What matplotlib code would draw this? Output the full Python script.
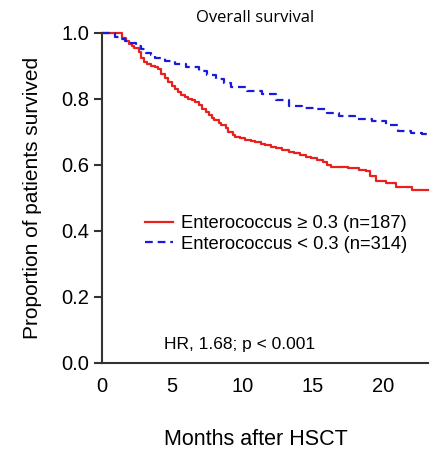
import matplotlib
matplotlib.use('Agg')
import matplotlib.pyplot as plt

plt.rcParams['font.family'] = ['Liberation Sans', 'DejaVu Sans']

# Kaplan-Meier step points (months, proportion)
red_t = [0, 1.4, 1.7, 1.9, 2.1, 2.3, 2.6, 2.8, 3.0, 3.2, 3.5, 3.8, 4.0, 4.2, 4.5, 4.7, 5.0, 5.2, 5.4, 5.6, 5.9,
         6.1, 6.4, 6.6, 6.9, 7.1, 7.4, 7.6, 7.8, 8.0, 8.3, 8.5, 8.8, 9.0, 9.3, 9.5, 9.8,
         10.2, 10.6, 10.9, 11.3, 11.6, 12.0, 12.4, 12.8, 13.3, 13.7, 14.1, 14.5, 14.9, 15.3, 15.7, 16.0, 16.3,
         17.5, 18.3, 18.8, 19.1, 19.5, 20.2, 20.9, 22.1, 23.2]
red_s = [1.0, 0.985, 0.975, 0.967, 0.96, 0.955, 0.942, 0.925, 0.91, 0.905, 0.9, 0.897, 0.89, 0.875, 0.862, 0.85, 0.84, 0.83, 0.82, 0.81, 0.805,
         0.80, 0.795, 0.79, 0.78, 0.77, 0.76, 0.75, 0.743, 0.735, 0.727, 0.72, 0.71, 0.70, 0.69, 0.683, 0.68,
         0.675, 0.671, 0.668, 0.664, 0.66, 0.655, 0.65, 0.645, 0.64, 0.635, 0.63, 0.625, 0.62, 0.613, 0.607, 0.6, 0.592,
         0.59, 0.585, 0.58, 0.565, 0.55, 0.545, 0.532, 0.523, 0.523]
blue_t = [0, 0.9, 1.3, 1.6, 2.0, 2.4, 2.8, 3.1, 3.5, 3.8, 4.5, 5.2, 6.0, 6.9, 7.5, 8.1, 8.7, 9.2, 10.3, 11.4, 12.4, 13.3,
          14.2, 15.2, 16.0, 16.9, 18.0, 19.2, 20.2, 21.1, 22.0, 22.8, 23.2]
blue_s = [1.0, 0.988, 0.982, 0.975, 0.968, 0.96, 0.95, 0.94, 0.932, 0.924, 0.915, 0.906, 0.895, 0.884, 0.872, 0.86, 0.848, 0.836, 0.825, 0.815, 0.795, 0.778,
          0.773, 0.769, 0.758, 0.748, 0.74, 0.733, 0.72, 0.702, 0.697, 0.693, 0.693]

red_label = 'Enterococcus \u2265 0.3 (n=187)'
blue_label = 'Enterococcus < 0.3 (n=314)'

fig = plt.figure(figsize=(4.38, 4.49), dpi=100)
ax = fig.add_axes([0.233, 0.192, 0.744, 0.735])

ax.step(red_t, red_s, where='post', color='#e8201e', lw=1.6, label=red_label, clip_on=False)
ax.step(blue_t, blue_s, where='post', color='#1a1adb', lw=1.6, ls=(0, (3.5, 2.2)), label=blue_label, clip_on=False)

ax.set_xlim(0, 23.2)
ax.set_ylim(0, 1.0)
ax.set_xticks([0, 5, 10, 15, 20])
ax.set_yticks([0.0, 0.2, 0.4, 0.6, 0.8, 1.0])
ax.set_yticklabels(['0.0', '0.2', '0.4', '0.6', '0.8', '1.0'])
ax.tick_params(axis='x', length=0, pad=10, labelsize=14.5)
ax.tick_params(axis='y', length=6, width=1.5, pad=3, labelsize=14.5, color='#333333')
for s in ['top', 'right']:
    ax.spines[s].set_visible(False)
for s in ['left', 'bottom']:
    ax.spines[s].set_linewidth(1.5)
    ax.spines[s].set_color('#333333')

ax.set_xlabel('Months after HSCT', fontsize=15.5, labelpad=22)
ax.xaxis.set_label_coords(0.472, -0.2)
ax.set_ylabel('Proportion of patients survived', fontsize=15, labelpad=14)
ax.set_title('Overall survival', fontsize=12, x=0.47, pad=8, family=['Open Sans', 'DejaVu Sans'])

ax.legend(loc='upper left', bbox_to_anchor=(0.11, 0.47), frameon=False, fontsize=13.2,
          handlelength=1.5, handletextpad=0.45, borderaxespad=0, labelspacing=0.2)
ax.text(0.19, 0.055, 'HR, 1.68; p < 0.001', transform=ax.transAxes, fontsize=12.5, ha='left', va='center')

fig.savefig('out.png', dpi=100)
